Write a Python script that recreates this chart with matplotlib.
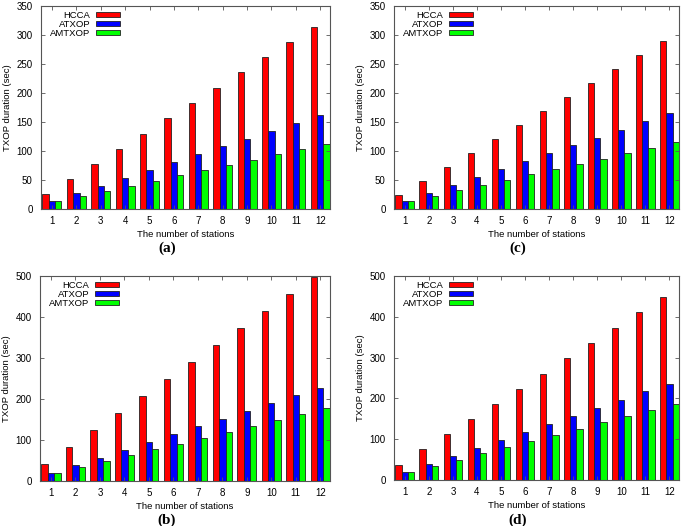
import matplotlib
matplotlib.use("Agg")
import matplotlib.pyplot as plt
import numpy as np

plt.rcParams['font.family'] = ['Liberation Sans', 'DejaVu Sans']

stations = list(range(1, 13))
series_names = ["HCCA", "ATXOP", "AMTXOP"]
colors = ["#ff0000", "#0000ff", "#00ff00"]

# (a)
a_hcca = [26, 52, 78, 104, 130, 157, 183, 209, 236, 262, 288, 314]
a_atxop = [13, 27, 40, 54, 67, 81, 94, 108, 121, 135, 148, 162]
a_amtxop = [13, 22, 31, 40, 49, 58, 67, 76, 85, 94, 103, 112]
# (c)
c_hcca = [24, 48, 73, 97, 121, 145, 169, 193, 218, 242, 266, 290]
c_atxop = [13, 27, 41, 55, 69, 82, 96, 110, 123, 137, 151, 165]
c_amtxop = [14, 23, 32, 41, 50, 60, 69, 78, 87, 97, 106, 115]
# (b)
b_hcca = [41, 83, 124, 166, 207, 248, 290, 331, 373, 414, 456, 498]
b_atxop = [19, 38, 57, 76, 95, 114, 133, 152, 171, 190, 209, 228]
b_amtxop = [19, 34, 48, 63, 77, 91, 106, 120, 135, 149, 164, 178]
# (d)
d_hcca = [37, 75, 112, 149, 187, 224, 261, 299, 336, 373, 411, 448]
d_atxop = [20, 39, 59, 78, 98, 118, 138, 157, 177, 197, 217, 236]
d_amtxop = [20, 35, 50, 65, 80, 96, 111, 126, 141, 156, 171, 187]

W, H = 685, 526
panels = [
    ("(a)", [a_hcca, a_atxop, a_amtxop], (41, 6, 330, 209), 350, 50, (167, 248)),
    ("(c)", [c_hcca, c_atxop, c_amtxop], (394, 6, 679, 209), 350, 50, (518, 248)),
    ("(b)", [b_hcca, b_atxop, b_amtxop], (40, 276, 330, 481), 500, 100, (167, 520)),
    ("(d)", [d_hcca, d_atxop, d_amtxop], (394, 276, 679, 480), 500, 100, (518, 520)),
]

fig = plt.figure(figsize=(6.85, 5.26), dpi=100)
x = np.array(stations, dtype=float)
w = 0.26
for label, data, (l, t, r, b), ymax, ystep, (lx, ly) in panels:
    ax = fig.add_axes([l / W, 1 - b / H, (r - l) / W, (b - t) / H])
    for i, (vals, name, col) in enumerate(zip(data, series_names, colors)):
        ax.bar(x + (i - 1) * w, vals, width=w, color=col, edgecolor="#222222",
               linewidth=0.6, label=name)
    ax.set_xlim(0.55, 12.4)
    ax.set_ylim(0, ymax)
    ax.set_xticks(stations)
    ax.set_yticks(np.arange(0, ymax + 1, ystep))
    ax.tick_params(direction="in", top=True, right=True, labelsize=7,
                   length=3, width=0.6, color="#555555")
    ax.tick_params(axis="y", pad=6)
    ax.tick_params(axis="x", pad=5)
    for s in ax.spines.values():
        s.set_color("#555555")
        s.set_linewidth(0.8)
    ax.set_xlabel("The number of stations", fontsize=6.8, labelpad=3)
    ax.set_ylabel("TXOP duration (sec)", fontsize=6.8, labelpad=3)
    ax.legend(loc="upper left", frameon=False, markerfirst=False,
              fontsize=6.8, handlelength=2.5, handleheight=0.45,
              labelspacing=0.02, handletextpad=0.6,
              bbox_to_anchor=(0.015, 1.0), borderaxespad=0.1)
    fig.text(lx / W, 1 - ly / H, label, ha="center", va="center",
             fontsize=11, fontweight="bold", family="Liberation Serif")

fig.savefig("out.png", dpi=100)
